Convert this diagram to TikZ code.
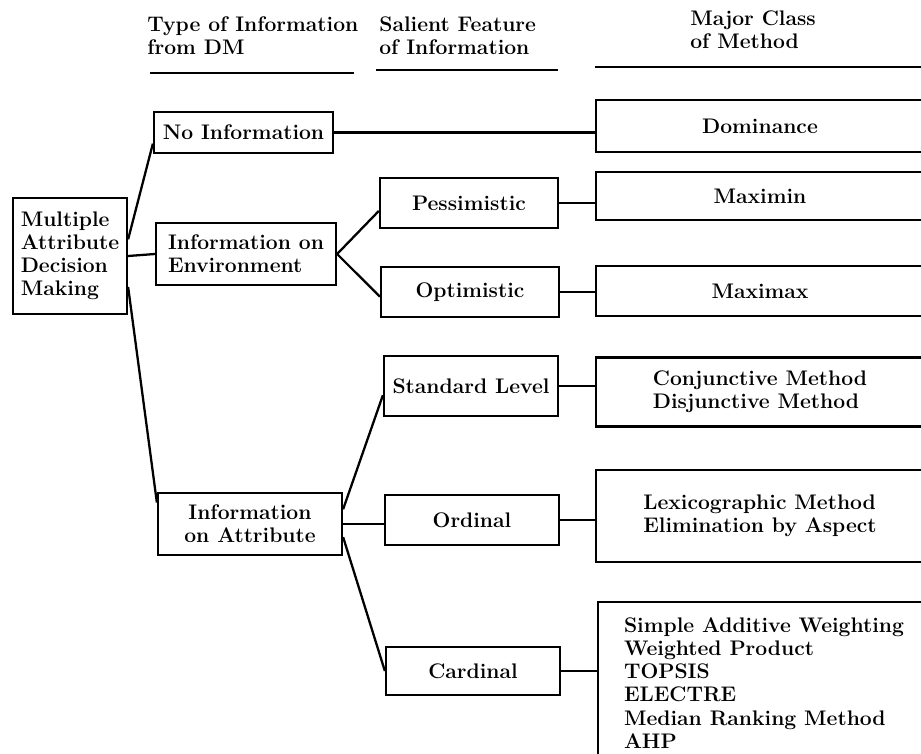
\documentclass[tikz,border=0pt]{standalone}
\usepackage{tikz}

\newcommand{\diagfont}{\fontsize{12}{13.2}\selectfont\bfseries}

\tikzset{
  box/.style={draw, line width=1.3pt, font=\diagfont, inner sep=2pt, align=center},
  lbox/.style={box, align=left},
  link/.style={line width=1.3pt},
  hd/.style={font=\diagfont, align=left, anchor=north west, inner sep=0pt},
}

\begin{document}
\begin{tikzpicture}[x=0.02cm, y=-0.02cm]

  % Frame of the picture (method boxes run off the right and bottom edge)
  \useasboundingbox (0,0) rectangle (921,754);
  \clip (0,0) rectangle (921,754);
  \fill[white] (0,0) rectangle (921,754);

  % Column headings
  \node[hd] (hdtype) at (147,16) {Type of Information\\from DM};
  \node[hd] (hdfeat) at (379,16) {Salient Feature\\of Information};
  \node[hd] (hdclass) at (690,10) {Major Class\\of Method};
  \draw[link] (150,73) -- (354,73);
  \draw[link] (376,70) -- (558,70);
  \draw[link] (595,67) -- (921,67);

  % Root
  \node[lbox, minimum width=2.28cm, minimum height=2.32cm] (madm) at (70,256) {Multiple\\Attribute\\Decision\\Making};

  % Type of information
  \node[box, minimum width=3.58cm, minimum height=0.82cm] (noinfo) at (243.5,132.5) {No Information};
  \node[lbox, minimum width=3.6cm, minimum height=1.24cm] (env) at (246,254) {Information on\\Environment};
  \node[box, minimum width=3.68cm, minimum height=1.24cm] (attr) at (250,524) {Information\\on Attribute};

  % Salient feature
  \node[box, minimum width=3.56cm, minimum height=1.0cm] (pess) at (469,203) {Pessimistic};
  \node[box, minimum width=3.56cm, minimum height=1.0cm] (opt) at (470,292) {Optimistic};
  \node[box, minimum width=3.48cm, minimum height=1.2cm] (std) at (471,386) {Standard Level};
  \node[box, minimum width=3.48cm, minimum height=1.0cm] (ord) at (472,520) {Ordinal};
  \node[box, minimum width=3.48cm, minimum height=0.96cm] (card) at (473,671) {Cardinal};

  % Major class of method
  \node[box, minimum width=6.56cm, minimum height=1.04cm] (dom) at (760,126) {Dominance};
  \node[box, minimum width=6.56cm, minimum height=0.96cm] (maximin) at (760,196) {Maximin};
  \node[box, minimum width=6.56cm, minimum height=1.0cm] (maximax) at (760,291) {Maximax};
  \node[lbox, minimum width=6.56cm, minimum height=1.38cm] (conj) at (760,392) {Conjunctive Method\\Disjunctive Method};
  \node[lbox, minimum width=6.56cm, minimum height=1.84cm] (lex) at (760,516) {Lexicographic Method\\Elimination by Aspect};
  \node[lbox, minimum width=6.64cm, minimum height=3.24cm] (cardm) at (764,683) {Simple Additive Weighting\\Weighted Product\\TOPSIS\\ELECTRE\\Median Ranking Method\\AHP};

  % Branches from the root
  \draw[link] (madm.16) -- (noinfo.187);
  \draw[link] (madm.east) -- (env.west);
  \draw[link] (madm.-28) -- (attr.167);

  % Branches to the features
  \draw[link] (env.east) -- (pess.185);
  \draw[link] (env.east) -- (opt.183);
  \draw[link] (attr.9) -- (std.186);
  \draw[link] (attr.east) -- (attr.east -| ord.west);
  \draw[link] (attr.-8) -- (card.west);

  % Features to methods
  \draw[link] (noinfo.east) -- (noinfo.east -| dom.west);
  \draw[link] (pess.east) -- (pess.east -| maximin.west);
  \draw[link] (opt.east) -- (opt.east -| maximax.west);
  \draw[link] (std.east) -- (std.east -| conj.west);
  \draw[link] (ord.east) -- (ord.east -| lex.west);
  \draw[link] (card.east) -- (card.east -| cardm.west);

\end{tikzpicture}
\end{document}
